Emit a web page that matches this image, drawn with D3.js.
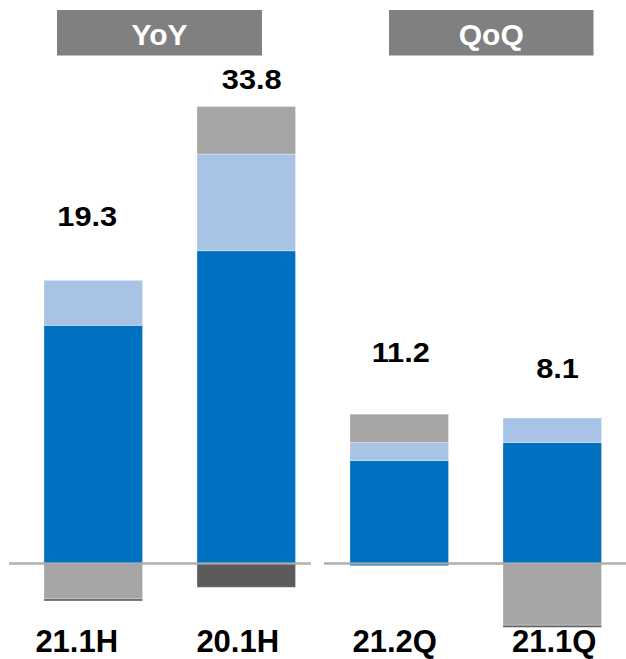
<!DOCTYPE html>
<html>
<head>
<meta charset="utf-8">
<script src="https://cdn.jsdelivr.net/npm/d3@7"></script>
<style>
  html, body { margin: 0; padding: 0; background: #fff; }
  svg { display: block; font-family: "Liberation Sans", Arial, sans-serif; }
</style>
</head>
<body>
<svg id="chart" width="626" height="659"></svg>
<script>
// Periods
const categories = ['21.1H', '20.1H', '21.2Q', '21.1Q'];
const totals = ['19.3', '33.8', '11.2', '8.1'];

// Stack segments
const mainValues = [18.5, 24.3, 8.0, 9.4];
const secondValues = [3.5, 7.5, 1.4, 1.9];
const otherValues = [-2.75, 3.7, 2.2, -4.8];
const adjustValues = [-0.16, -1.85, 0, -0.16];
const minorValues = [0, 0, -0.17, 0];

const groups = [
  { name: 'YoY', members: ['21.1H', '20.1H'] },
  { name: 'QoQ', members: ['21.2Q', '21.1Q'] }
];

const seriesKeys = ['main', 'second', 'other', 'adjust', 'minor'];
const colors = {
  main: '#0070C0',
  second: '#A9C3E6',
  other: '#A5A5A5',
  adjust: '#5B5B5B',
  minor: '#0070C0'
};

const table = categories.map((c, i) => ({
  category: c,
  main: mainValues[i],
  second: secondValues[i],
  other: otherValues[i],
  adjust: adjustValues[i],
  minor: minorValues[i]
}));

const svg = d3.select('#chart');

const x = d3.scaleBand()
  .domain(categories)
  .range([16.75, 628.75])
  .paddingInner(0.356)
  .paddingOuter(0.178);

const y = d3.scaleLinear()
  .domain([0, 35])
  .range([563.5, 113]);

const stack = d3.stack()
  .keys(seriesKeys)
  .offset(d3.stackOffsetDiverging);

const layers = stack(table);

// Bars (skip empty segments)
svg.append('g')
  .selectAll('g')
  .data(layers)
  .join('g')
  .attr('fill', d => colors[d.key])
  .selectAll('rect')
  .data(d => d.filter(s => s[0] !== s[1]))
  .join('rect')
  .attr('x', d => x(d.data.category))
  .attr('width', x.bandwidth())
  .attr('y', d => y(Math.max(d[0], d[1])))
  .attr('height', d => Math.abs(y(d[0]) - y(d[1])))
  .attr('stroke', '#fff')
  .attr('stroke-opacity', 0.3)
  .attr('stroke-width', 1);

// Zero line, one piece per group
const lineEnds = [[9, 311], [324, 626]];
svg.append('g')
  .selectAll('line')
  .data(lineEnds)
  .join('line')
  .attr('x1', d => d[0])
  .attr('x2', d => d[1])
  .attr('y1', y(0))
  .attr('y2', y(0))
  .attr('stroke', '#A6A6A6')
  .attr('stroke-opacity', 0.9)
  .attr('stroke-width', 2.5);

// Total labels above the stacks (hand nudged like the slide)
const totalNudge = [[-6, 54], [5.5, 17.7], [1.5, 51.7], [5.3, 40.3]];
const topOf = cat => {
  const d = table.find(t => t.category === cat);
  const pos = seriesKeys.reduce((s, k) => s + Math.max(0, d[k]), 0);
  return y(pos);
};

svg.append('g')
  .selectAll('text')
  .data(categories)
  .join('text')
  .attr('transform', (c, i) =>
    `translate(${x(c) + x.bandwidth() / 2 + totalNudge[i][0]},${topOf(c) - totalNudge[i][1]}) scale(1.1,1)`)
  .attr('text-anchor', 'middle')
  .attr('font-size', 28)
  .attr('font-weight', 'bold')
  .attr('fill', '#000')
  .text((c, i) => totals[i]);

// Category labels
const labelNudge = [[-16.5, 652], [-8.5, 652], [-4.5, 652], [2, 652]];
svg.append('g')
  .selectAll('text')
  .data(categories)
  .join('text')
  .attr('x', (c, i) => x(c) + x.bandwidth() / 2 + labelNudge[i][0])
  .attr('y', (c, i) => labelNudge[i][1])
  .attr('text-anchor', 'middle')
  .attr('font-size', 31)
  .attr('font-weight', 'bold')
  .attr('fill', '#000')
  .text(c => c);

// Group headers
const headerBoxes = [[57, 262], [389, 593.5]];
const header = svg.append('g')
  .selectAll('g')
  .data(groups)
  .join('g');

header.append('rect')
  .attr('x', (g, i) => headerBoxes[i][0])
  .attr('width', (g, i) => headerBoxes[i][1] - headerBoxes[i][0])
  .attr('y', 10)
  .attr('height', 45.5)
  .attr('fill', '#808080');

header.append('text')
  .attr('x', (g, i) => (headerBoxes[i][0] + headerBoxes[i][1]) / 2)
  .attr('y', 45)
  .attr('text-anchor', 'middle')
  .attr('font-size', 30)
  .attr('font-weight', 'bold')
  .attr('fill', '#fff')
  .text(g => g.name);
</script>
</body>
</html>
